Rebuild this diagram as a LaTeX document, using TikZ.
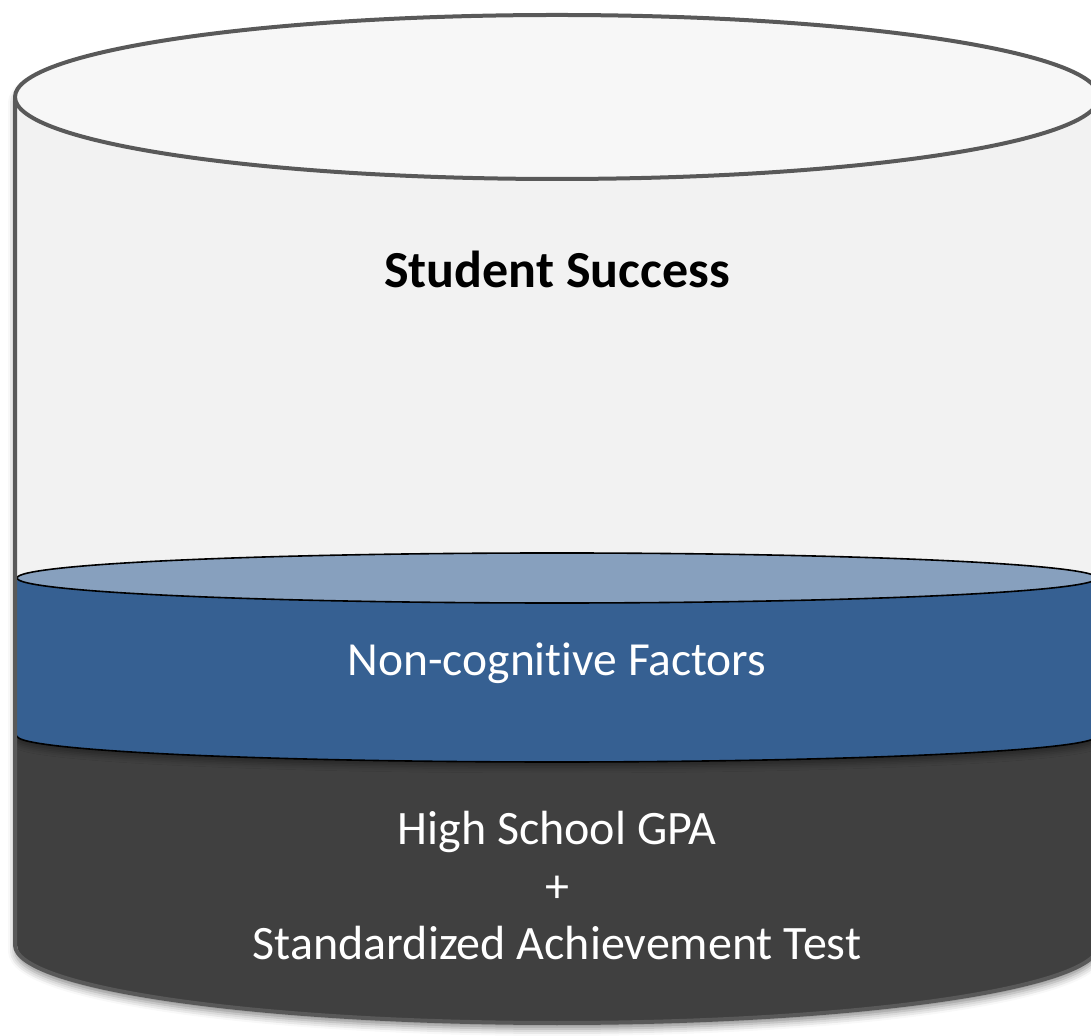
\documentclass[tikz,border=0pt]{standalone}
\usepackage{fontspec}
\setmainfont{Carlito}[Ligatures={NoCommon}]
\usetikzlibrary{shadows.blur}
\definecolor{wallgray}{HTML}{595959}
\definecolor{bodyfill}{HTML}{F2F2F2}
\definecolor{topfill}{HTML}{F7F7F7}
\definecolor{bluefill}{HTML}{366092}
\definecolor{lightblue}{HTML}{87A0BE}
\definecolor{darkfill}{HTML}{404040}
\tikzset{
  wall/.style={draw=wallgray, line width=4pt, line join=round},
  layeredge/.style={draw=black, line width=1.6pt},
  bigtext/.style={font=\fontsize{48}{57}\selectfont, anchor=base, inner sep=0pt},
}
\begin{document}
\begin{tikzpicture}[x=1pt,y=1pt]
\useasboundingbox (0,0) rectangle (1091,1035);
\clip (0,0) rectangle (1091,1035);
% cylinder body with shadow
\path[fill=bodyfill, blur shadow={shadow xshift=0pt, shadow yshift=-6pt, shadow blur radius=7pt, shadow opacity=45}]
  (15,938) -- (15,90) arc[start angle=180,end angle=360,x radius=542pt,y radius=78pt]
  -- (1099,938) arc[start angle=0,end angle=180,x radius=542pt,y radius=82pt] -- cycle;
% dark bottom layer
\fill[darkfill] (17,299) -- (17,90) arc[start angle=180,end angle=360,x radius=540pt,y radius=78pt]
  -- (1097,299) arc[start angle=360,end angle=180,x radius=540pt,y radius=26pt] -- cycle;
% blue layer
\begin{scope}
\clip (17,600) rectangle (1097,80);
\fill[bluefill, blur shadow={shadow xshift=0pt, shadow yshift=-5pt, shadow blur radius=6pt, shadow opacity=40}]
  (17,457) -- (17,299) arc[start angle=180,end angle=360,x radius=540pt,y radius=26pt]
  -- (1097,457) -- cycle;
\end{scope}
\draw[layeredge] (17,299) arc[start angle=180,end angle=360,x radius=540pt,y radius=26pt];
\filldraw[fill=lightblue, layeredge] (557,457) ellipse[x radius=540pt, y radius=25pt];
% outer walls and top
\draw[wall] (15,938) -- (15,90) arc[start angle=180,end angle=360,x radius=542pt,y radius=78pt] -- (1099,938);
\filldraw[fill=topfill, wall] (557,938) ellipse[x radius=542pt, y radius=82pt];
% texts
\node[bigtext, font=\fontsize{52}{57}\selectfont\bfseries] (title) at (557,747) {Student Success};
\node[bigtext, font=\fontsize{47.5}{57}\selectfont, text=white] (noncog) at (557,359) {Non-cognitive Factors};
\node[bigtext, text=white] (gpa) at (557,190) {High School GPA};
\node[bigtext, text=white] (plus) at (557,132) {+};
\node[bigtext, text=white] (sat) at (557,75) {Standardized Achievement Test};
\end{tikzpicture}
\end{document}
